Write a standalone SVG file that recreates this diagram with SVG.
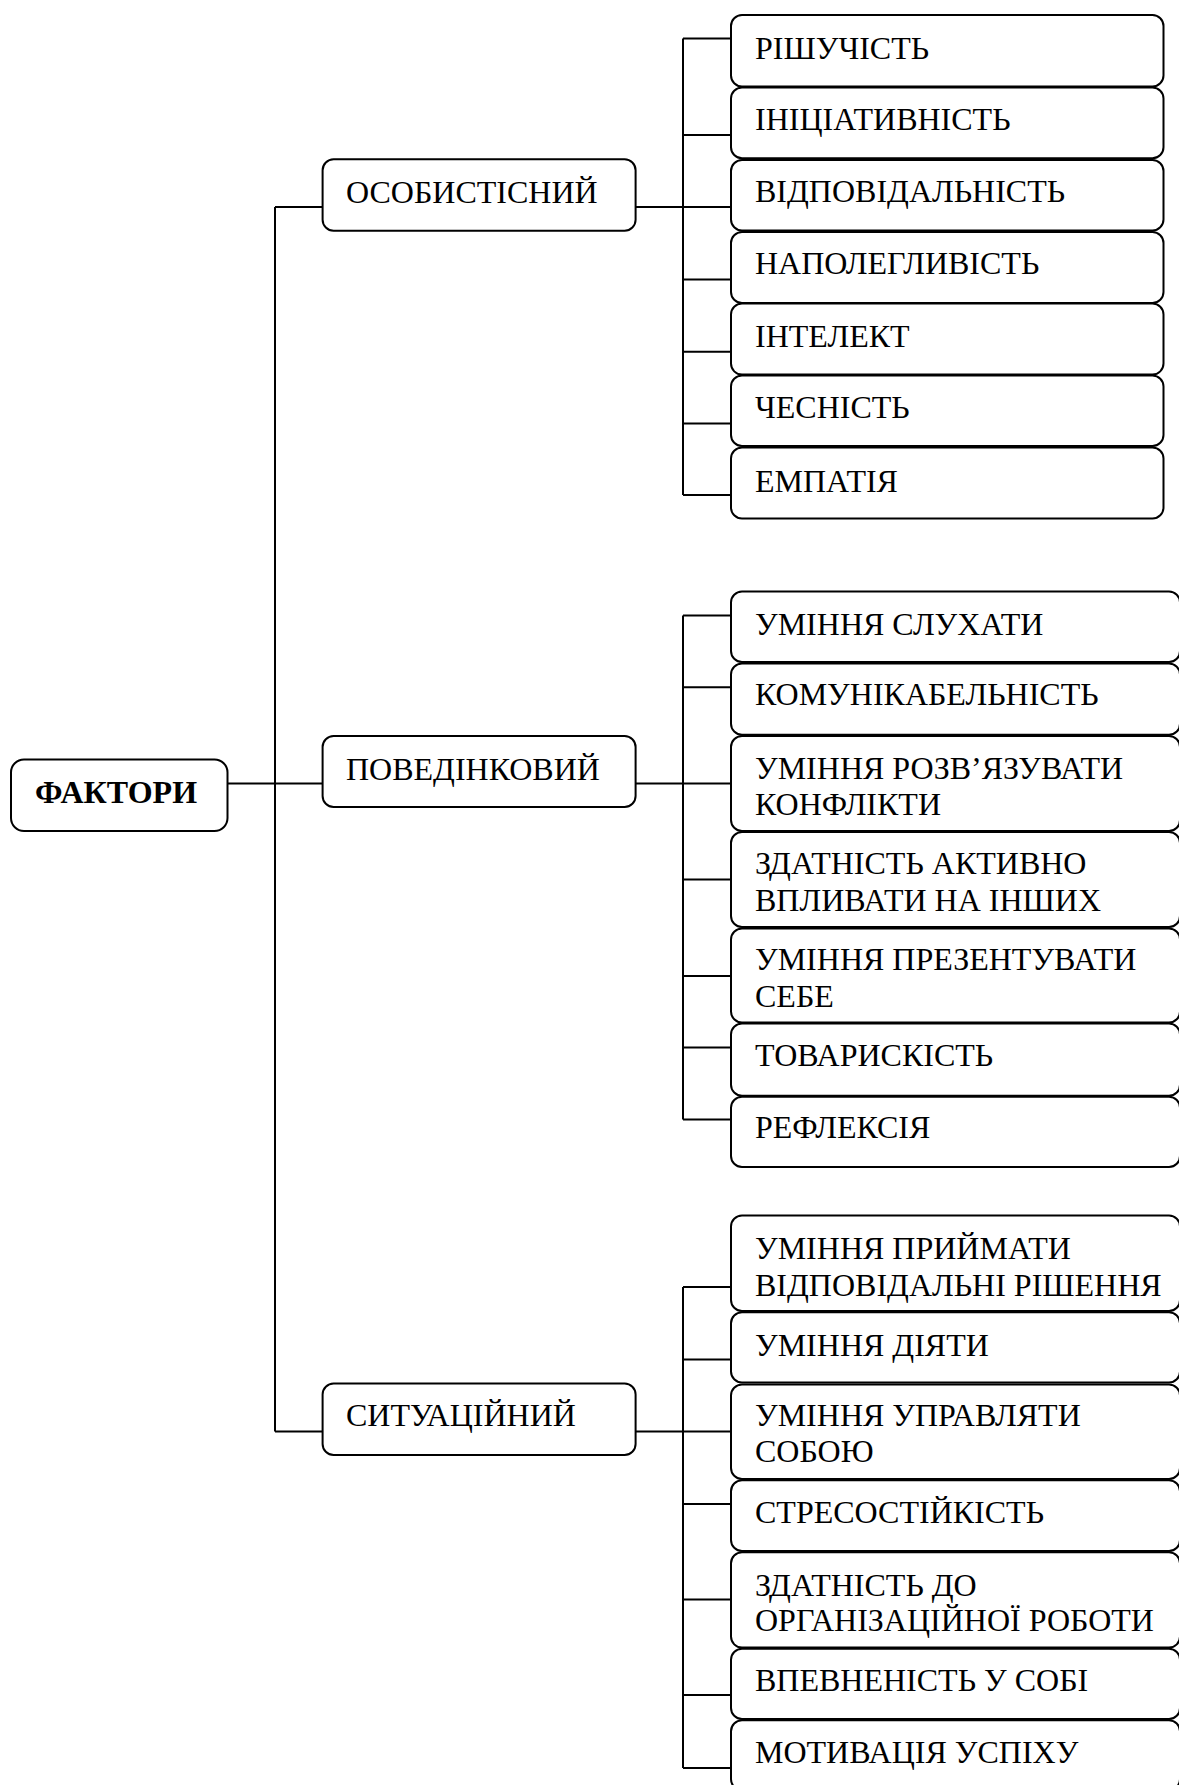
<svg xmlns="http://www.w3.org/2000/svg" width="1179" height="1785" viewBox="0 0 1179 1785">
<style>
.box{fill:#fff;stroke:#000;stroke-width:2}
.t{font-family:"Liberation Serif","Times New Roman",serif;font-size:32px;fill:#000}
.b{font-weight:bold}
.c{fill:none;stroke:#000;stroke-width:2}
</style>
<rect width="1179" height="1785" fill="#fff"/>
<g id="connectors">
<path class="c" d="M227.5 783.4H322.6M275 207V1431.5M275 207H322.6M275 1431.5H322.6"/>
<path class="c" d="M635.5 207H731M683 38.6V495M683 38.6H731M683 135H731M683 279.6H731M683 351.8H731M683 423.6H731M683 495H731"/>
<path class="c" d="M635.5 783.4H731M683 615.4V1119.5M683 615.4H731M683 687.3H731M683 879.5H731M683 976H731M683 1047.5H731M683 1119.5H731"/>
<path class="c" d="M635.5 1431.5H731M683 1287V1768M683 1287H731M683 1359.4H731M683 1504H731M683 1599.4H731M683 1695H731M683 1768H731"/>
</g>
<g id="n-faktory"><rect class="box" x="11" y="759.5" width="216.5" height="71.5" rx="13"/><text class="t b" x="35" y="802.5">ФАКТОРИ</text></g>
<g id="n-osob"><rect class="box" x="322.6" y="159.3" width="313" height="71.4" rx="11"/><text class="t" x="346" y="203">ОСОБИСТІСНИЙ</text></g>
<g id="n-poved"><rect class="box" x="322.6" y="736" width="313" height="71" rx="11"/><text class="t" x="346" y="779.5">ПОВЕДІНКОВИЙ</text></g>
<g id="n-sytu"><rect class="box" x="322.6" y="1383.5" width="313" height="71.5" rx="11"/><text class="t" x="346" y="1426">СИТУАЦІЙНИЙ</text></g>

<g id="n1-1"><rect class="box" x="731" y="15" width="432.5" height="71.5" rx="11"/><text class="t" x="755" y="59">РІШУЧІСТЬ</text></g>
<g id="n1-2"><rect class="box" x="731" y="87.5" width="432.5" height="70.8" rx="11"/><text class="t" x="755" y="129.5">ІНІЦІАТИВНІСТЬ</text></g>
<g id="n1-3"><rect class="box" x="731" y="160" width="432.5" height="70.5" rx="11"/><text class="t" x="755" y="202">ВІДПОВІДАЛЬНІСТЬ</text></g>
<g id="n1-4"><rect class="box" x="731" y="232" width="432.5" height="71" rx="11"/><text class="t" x="755" y="273.5">НАПОЛЕГЛИВІСТЬ</text></g>
<g id="n1-5"><rect class="box" x="731" y="303.6" width="432.5" height="71" rx="11"/><text class="t" x="755" y="346.5">ІНТЕЛЕКТ</text></g>
<g id="n1-6"><rect class="box" x="731" y="375.5" width="432.5" height="70.5" rx="11"/><text class="t" x="755" y="418">ЧЕСНІСТЬ</text></g>
<g id="n1-7"><rect class="box" x="731" y="447.5" width="432.5" height="71" rx="11"/><text class="t" x="755" y="492">ЕМПАТІЯ</text></g>

<g id="n2-1"><rect class="box" x="731" y="591.6" width="449" height="70.4" rx="11"/><text class="t" x="755" y="635">УМІННЯ СЛУХАТИ</text></g>
<g id="n2-2"><rect class="box" x="731" y="663.6" width="449" height="71.2" rx="11"/><text class="t" x="755" y="705">КОМУНІКАБЕЛЬНІСТЬ</text></g>
<g id="n2-3"><rect class="box" x="731" y="736" width="449" height="95" rx="11"/><text class="t" x="755" y="778.7">УМІННЯ РОЗВ’ЯЗУВАТИ</text><text class="t" x="755" y="815">КОНФЛІКТИ</text></g>
<g id="n2-4"><rect class="box" x="731" y="832" width="449" height="95" rx="11"/><text class="t" x="755" y="874">ЗДАТНІСТЬ АКТИВНО</text><text class="t" x="755" y="911">ВПЛИВАТИ НА ІНШИХ</text></g>
<g id="n2-5"><rect class="box" x="731" y="928.5" width="449" height="94" rx="11"/><text class="t" x="755" y="970">УМІННЯ ПРЕЗЕНТУВАТИ</text><text class="t" x="755" y="1006.8">СЕБЕ</text></g>
<g id="n2-6"><rect class="box" x="731" y="1023.6" width="449" height="72.2" rx="11"/><text class="t" x="755" y="1066">ТОВАРИСКІСТЬ</text></g>
<g id="n2-7"><rect class="box" x="731" y="1096.8" width="449" height="70.2" rx="11"/><text class="t" x="755" y="1138">РЕФЛЕКСІЯ</text></g>

<g id="n3-1"><rect class="box" x="731" y="1215.5" width="449" height="95.5" rx="11"/><text class="t" x="755" y="1259">УМІННЯ ПРИЙМАТИ</text><text class="t" x="755" y="1295.7">ВІДПОВІДАЛЬНІ РІШЕННЯ</text></g>
<g id="n3-2"><rect class="box" x="731" y="1312.3" width="449" height="70.2" rx="11"/><text class="t" x="755" y="1355.5">УМІННЯ ДІЯТИ</text></g>
<g id="n3-3"><rect class="box" x="731" y="1384.5" width="449" height="94.5" rx="11"/><text class="t" x="755" y="1426">УМІННЯ УПРАВЛЯТИ</text><text class="t" x="755" y="1461.6">СОБОЮ</text></g>
<g id="n3-4"><rect class="box" x="731" y="1480.2" width="449" height="70.8" rx="11"/><text class="t" x="755" y="1522.6">СТРЕСОСТІЙКІСТЬ</text></g>
<g id="n3-5"><rect class="box" x="731" y="1552.2" width="449" height="95.4" rx="11"/><text class="t" x="755" y="1596">ЗДАТНІСТЬ ДО</text><text class="t" x="755" y="1631.4">ОРГАНІЗАЦІЙНОЇ РОБОТИ</text></g>
<g id="n3-6"><rect class="box" x="731" y="1648.8" width="449" height="70.2" rx="11"/><text class="t" x="755" y="1691">ВПЕВНЕНІСТЬ У СОБІ</text></g>
<g id="n3-7"><rect class="box" x="731" y="1720.2" width="449" height="70" rx="11"/><text class="t" x="755" y="1762.6">МОТИВАЦІЯ УСПІХУ</text></g>
</svg>
